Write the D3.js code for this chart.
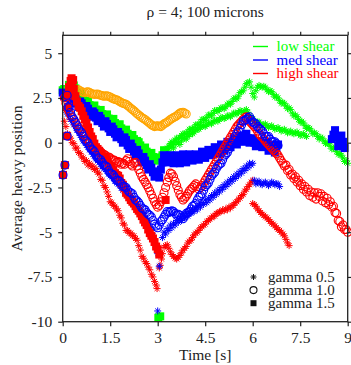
<!DOCTYPE html>
<html>
<head>
<meta charset="utf-8">
<script src="https://cdn.jsdelivr.net/npm/d3@7"></script>
<style>
  html, body { margin: 0; padding: 0; background: #fff; }
  svg { display: block; font-family: "Liberation Serif", "Times New Roman", serif; }
</style>
</head>
<body>
<svg id="chart" width="351" height="365"></svg>
<script>
// Axis ticks
const xTicks = [0, 1.5, 3, 4.5, 6, 7.5, 9];
const xTickLabels = ["0", "1.5", "3", "4.5", "6", "7.5", "9"];
const yTicks = [5, 2.5, 0, -2.5, -5, -7.5, -10];
const yTickLabels = ["5", "2.5", "0", "-2.5", "-5", "-7.5", "-10"];

// Legend entries
const shearNames = ["low shear", "med shear", "high shear"];
const shearColors = ["#00ff00", "#0000ff", "#ff0000"];
const gammaNames = ["gamma 0.5", "gamma 1.0", "gamma 1.5"];
const gammaMarks = ["asterisk", "circle", "square"];

// Trajectories: [time (s), average heavy position]
const lowShearG15 = [[0.0,2.93],[0.05,3.0],[0.1,2.77],[0.15,2.85],[0.2,3.23],[0.25,3.1],[0.3,2.97],[0.35,3.2],[0.4,3.03],[0.45,2.8],[0.5,2.57],[0.55,2.75],[0.6,2.63],[0.65,2.4],[0.7,2.17],[0.75,2.3],[0.8,2.33],[0.85,2.1],[0.9,1.92],[0.95,2.0],[1.0,2.08],[1.05,1.85],[1.1,1.72],[1.15,1.8],[1.2,1.83],[1.25,1.6],[1.3,1.47],[1.35,1.55],[1.4,1.58],[1.45,1.35],[1.5,1.17],[1.55,1.25],[1.6,1.33],[1.65,1.1],[1.7,0.92],[1.75,0.95],[1.8,1.03],[1.85,0.8],[1.9,0.62],[1.95,0.7],[2.0,0.73],[2.05,0.5],[2.1,0.32],[2.15,0.4],[2.2,0.43],[2.25,0.2],[2.3,-0.03],[2.35,0.1],[2.4,0.03],[2.45,-0.15],[2.5,-0.38],[2.55,-0.3],[2.6,-0.27],[2.65,-0.5],[2.7,-0.68],[2.75,-0.6],[2.8,-0.57],[2.85,-0.8],[2.9,-0.98],[2.95,-0.95],[3.0,-0.82],[3.05,-1.0],[3.1,-0.93],[3.15,-0.7],[3.2,-0.42],[3.02,-9.78],[3.08,-9.7]];

const lowShearG05 = [[3.2,-0.4],[3.25,-0.45],[3.3,-0.3],[3.35,-0.2],[3.4,-0.05],[3.45,0.05],[3.5,0.0],[3.55,0.15],[3.6,0.25],[3.65,0.25],[3.7,0.3],[3.75,0.4],[3.8,0.5],[3.85,0.5],[3.9,0.5],[3.95,0.6],[4.0,0.75],[4.05,0.75],[4.1,0.75],[4.15,0.85],[4.2,1.0],[4.25,1.0],[4.3,1.0],[4.35,1.15],[4.4,1.3],[4.45,1.3],[4.5,1.25],[4.55,1.4],[4.6,1.55],[4.65,1.55],[4.7,1.5],[4.75,1.65],[4.8,1.8],[4.85,1.8],[4.9,1.75],[4.95,1.85],[5.0,1.95],[5.05,1.95],[5.1,1.9],[5.15,2.0],[5.2,2.15],[5.25,2.2],[5.3,2.15],[5.35,2.3],[5.4,2.45],[5.45,2.5],[5.5,2.45],[5.55,2.6],[5.6,2.8],[5.65,2.85],[5.7,2.9],[5.75,3.1],[5.8,3.3],[5.85,3.35],[5.9,3.4],[5.95,3.1],[6.0,2.75],[6.05,2.55],[6.1,2.9],[6.15,3.1],[6.2,3.2],[6.25,3.15],[6.3,3.1],[6.35,3.15],[6.4,3.1],[6.45,2.95],[6.5,2.85],[6.55,2.9],[6.6,2.85],[6.65,2.7],[6.7,2.55],[6.75,2.6],[6.8,2.5],[6.85,2.35],[6.9,2.2],[6.95,2.25],[7.0,2.2],[7.05,2.05],[7.1,1.9],[7.15,1.95],[7.2,1.85],[7.25,1.65],[7.3,1.5],[7.35,1.55],[7.4,1.45],[7.45,1.3],[7.5,1.15],[7.55,1.2],[7.6,1.1],[7.65,0.95],[7.7,0.8],[7.75,0.85],[7.8,0.8],[7.85,0.65],[7.9,0.5],[7.95,0.55],[8.0,0.5],[8.05,0.35],[8.1,0.2],[8.15,0.3],[8.2,0.25],[8.25,0.1],[8.3,-0.05],[8.35,0.0],[8.4,-0.05],[8.45,-0.2],[8.5,-0.35],[8.55,-0.3],[8.6,-0.35],[8.65,-0.5],[8.7,-0.65],[8.75,-0.6],[8.8,-0.7],[8.85,-0.85],[8.9,-1.05],[8.95,-1.0],[9.0,-1.15]];

const lowShearG05b = [[3.3,-0.5],[3.35,-0.35],[3.4,-0.15],[3.45,-0.25],[3.5,-0.3],[3.55,-0.1],[3.6,0.05],[3.65,0.0],[3.7,-0.1],[3.75,0.1],[3.8,0.25],[3.85,0.25],[3.9,0.2],[3.95,0.35],[4.0,0.45],[4.05,0.5],[4.1,0.5],[4.15,0.6],[4.2,0.7],[4.25,0.75],[4.3,0.75],[4.35,0.85],[4.4,0.95],[4.45,0.95],[4.5,0.9],[4.55,1.0],[4.6,1.1],[4.65,1.1],[4.7,1.05],[4.75,1.15],[4.8,1.25],[4.85,1.25],[4.9,1.2],[4.95,1.3],[5.0,1.4],[5.05,1.4],[5.1,1.35],[5.15,1.4],[5.2,1.5],[5.25,1.5],[5.3,1.45],[5.35,1.55],[5.4,1.65],[5.45,1.65],[5.5,1.6],[5.55,1.7],[5.6,1.8],[5.65,1.75],[5.7,1.7],[5.75,1.8],[5.8,1.85],[5.85,1.7],[5.9,1.5],[5.95,1.4],[6.0,1.35],[6.05,1.2],[6.1,1.1],[6.15,1.15],[6.2,1.15],[6.25,1.05],[6.3,0.95],[6.35,1.0],[6.4,1.05],[6.45,0.95],[6.5,0.85],[6.55,0.9],[6.6,0.95],[6.65,0.85],[6.7,0.75],[6.75,0.8],[6.8,0.85],[6.85,0.75],[6.9,0.65],[6.95,0.7],[7.0,0.75],[7.05,0.65],[7.1,0.55],[7.15,0.6],[7.2,0.65],[7.25,0.55],[7.3,0.5],[7.35,0.55],[7.4,0.6],[7.45,0.5],[7.5,0.4],[7.55,0.45],[7.6,0.5],[7.65,0.4],[7.7,0.35]];

const lowShearG10 = [[0.2,3.05],[0.25,3.0],[0.3,2.95],[0.35,2.92],[0.4,2.9],[0.45,2.93],[0.5,2.95],[0.55,2.9],[0.6,2.85],[0.65,2.82],[0.7,2.8],[0.75,2.83],[0.8,2.85],[0.85,2.8],[0.9,2.75],[0.95,2.72],[1.0,2.7],[1.05,2.71],[1.1,2.72],[1.15,2.68],[1.2,2.65],[1.25,2.62],[1.3,2.6],[1.35,2.61],[1.4,2.62],[1.45,2.58],[1.5,2.55],[1.55,2.5],[1.6,2.45],[1.65,2.42],[1.7,2.4],[1.75,2.35],[1.8,2.3],[1.85,2.25],[1.9,2.2],[1.95,2.18],[2.0,2.15],[2.05,2.08],[2.1,2.0],[2.15,1.92],[2.2,1.85],[2.25,1.78],[2.3,1.7],[2.35,1.62],[2.4,1.55],[2.45,1.48],[2.5,1.4],[2.55,1.35],[2.6,1.3],[2.65,1.22],[2.7,1.15],[2.75,1.08],[2.8,1.0],[2.85,0.95],[2.9,0.9],[2.95,0.93],[3.0,0.95],[3.05,0.92],[3.1,0.9],[3.15,0.98],[3.2,1.05],[3.25,1.1],[3.3,1.15],[3.35,1.22],[3.4,1.3],[3.45,1.35],[3.5,1.4],[3.55,1.45],[3.6,1.5],[3.65,1.58],[3.7,1.65],[3.75,1.68],[3.8,1.7],[3.85,1.65],[3.9,1.6]];

const medShearG15 = [[0.0,2.8],[0.05,2.6],[0.1,2.5],[0.15,2.75],[0.2,2.6],[0.25,2.4],[0.3,2.2],[0.35,2.5],[0.4,2.45],[0.45,2.2],[0.5,2.0],[0.55,2.3],[0.6,2.2],[0.65,1.95],[0.7,1.75],[0.75,2.05],[0.8,1.9],[0.85,1.65],[0.9,1.45],[0.95,1.75],[1.0,1.65],[1.05,1.4],[1.1,1.2],[1.15,1.5],[1.2,1.35],[1.25,1.1],[1.3,0.9],[1.35,1.2],[1.4,1.05],[1.45,0.8],[1.5,0.6],[1.55,0.9],[1.6,0.75],[1.65,0.5],[1.7,0.3],[1.75,0.6],[1.8,0.45],[1.85,0.2],[1.9,0.0],[1.95,0.3],[2.0,0.15],[2.05,-0.15],[2.1,-0.35],[2.15,-0.05],[2.2,-0.25],[2.25,-0.5],[2.3,-0.7],[2.35,-0.4],[2.4,-0.6],[2.45,-0.85],[2.5,-1.1],[2.55,-0.8],[2.6,-1.0],[2.65,-1.25],[2.7,-1.5],[2.75,-1.2],[2.8,-1.4],[2.85,-1.65],[2.9,-1.9],[2.95,-1.6],[3.0,-1.75],[3.05,-1.95],[3.1,-1.5],[3.15,-1.1],[3.2,-0.7],[3.25,-0.9],[3.3,-1.1],[3.35,-0.8],[3.4,-0.7],[3.45,-0.95],[3.5,-1.15],[3.55,-0.85],[3.6,-0.7],[3.65,-0.95],[3.7,-1.15],[3.75,-0.85],[3.8,-0.65],[3.85,-0.9],[3.9,-1.1],[3.95,-0.8],[4.0,-0.65],[4.05,-0.85],[4.1,-1.0],[4.15,-0.8],[4.2,-0.65],[4.25,-0.8],[4.3,-0.95],[4.35,-0.7],[4.4,-0.5],[4.45,-0.7],[4.5,-0.85],[4.55,-0.6],[4.6,-0.4],[4.65,-0.55],[4.7,-0.7],[4.75,-0.45],[4.8,-0.25],[4.85,-0.4],[4.9,-0.6],[4.95,-0.35],[5.0,-0.1],[5.05,-0.3],[5.1,-0.45],[5.15,-0.2],[5.2,0.05],[5.25,-0.1],[5.3,-0.25],[5.35,0.0],[5.4,0.25],[5.45,0.05],[5.5,-0.1],[5.55,0.15],[5.6,0.4],[5.65,0.2],[5.7,0.05],[5.75,0.3],[5.8,0.5],[5.85,0.25],[5.9,0.0],[5.95,0.15],[6.0,0.25],[6.05,0.0],[6.1,-0.2],[6.15,-0.05],[6.2,0.1],[6.25,-0.1],[6.3,-0.25],[6.35,-0.1],[6.4,0.0],[6.45,-0.2],[6.5,-0.45],[6.55,-0.25],[6.6,-0.1],[6.65,-0.3],[6.7,-0.55],[6.75,-0.3],[6.8,-0.1],[8.5,0.2],[8.55,0.45],[8.6,0.7],[8.65,0.3],[8.7,-0.2],[8.75,0.1],[8.8,0.4],[8.85,0.05],[8.9,-0.3]];

const medShearG10 = [[0.14,2.65],[0.17,2.0],[0.14,0.37],[0.07,-1.25],[0.01,-1.8],[0.2,1.95],[0.25,1.7],[0.3,1.45],[0.35,1.3],[0.4,1.15],[0.45,0.95],[0.5,0.75],[0.55,0.65],[0.6,0.55],[0.65,0.35],[0.7,0.15],[0.75,0.1],[0.8,0.0],[0.85,-0.2],[0.9,-0.35],[0.95,-0.4],[1.0,-0.5],[1.05,-0.7],[1.1,-0.85],[1.15,-0.9],[1.2,-0.95],[1.25,-1.1],[1.3,-1.25],[1.35,-1.3],[1.4,-1.35],[1.45,-1.55],[1.5,-1.7],[1.55,-1.75],[1.6,-1.8],[1.65,-1.95],[1.7,-2.1],[1.75,-2.1],[1.8,-2.15],[1.85,-2.3],[1.9,-2.45],[1.95,-2.45],[2.0,-2.5],[2.05,-2.65],[2.1,-2.75],[2.15,-2.8],[2.2,-2.85],[2.25,-3.05],[2.3,-3.2],[2.35,-3.25],[2.4,-3.35],[2.45,-3.5],[2.5,-3.65],[2.55,-3.7],[2.6,-3.75],[2.65,-3.9],[2.7,-4.0],[2.75,-4.05],[2.8,-4.15],[2.85,-4.35],[2.9,-4.55],[2.95,-4.65],[3.0,-4.75],[3.05,-4.6],[3.1,-4.4],[3.15,-4.3],[3.2,-4.15],[3.25,-4.0],[3.3,-3.85],[3.35,-3.9],[3.4,-3.85],[3.45,-3.8],[3.5,-3.85],[3.55,-3.95],[3.6,-4.05],[3.65,-4.0],[3.7,-4.05],[3.75,-4.15],[3.8,-4.25],[3.85,-4.1],[3.9,-3.95],[3.95,-3.9],[4.0,-3.85],[4.05,-3.7],[4.1,-3.55],[4.15,-3.5],[4.2,-3.4],[4.25,-3.2],[4.3,-3.05],[4.35,-2.95],[4.4,-2.85],[4.45,-2.65],[4.5,-2.45],[4.55,-2.35],[4.6,-2.25],[4.65,-2.05],[4.7,-1.85],[4.75,-1.75],[4.8,-1.65],[4.85,-1.45],[4.9,-1.3],[4.95,-1.2],[5.0,-1.15],[5.05,-0.95],[5.1,-0.75],[5.15,-0.65],[5.2,-0.55],[5.25,-0.35],[5.3,-0.15],[5.35,0.0],[5.4,0.15],[5.45,0.35],[5.5,0.55],[5.55,0.65],[5.6,0.8],[5.65,1.0],[5.7,1.2],[5.75,1.25],[5.8,1.3],[5.85,1.4],[5.9,1.45],[5.95,1.3],[6.0,1.15],[6.05,1.1],[6.1,1.05],[6.15,0.9],[6.2,0.8],[6.25,0.75],[6.3,0.65],[6.35,0.5],[6.4,0.35],[6.45,0.35],[6.5,0.35],[6.55,0.2],[6.6,0.05],[6.65,0.05],[6.7,0.05],[6.75,-0.05],[6.8,-0.15]];

const medShearG05 = [[0.1,1.8],[0.15,1.6],[0.2,1.5],[0.25,1.3],[0.3,1.2],[0.35,1.0],[0.4,0.9],[0.45,0.7],[0.5,0.6],[0.55,0.4],[0.6,0.3],[0.65,0.1],[0.7,0.0],[0.75,-0.15],[0.8,-0.25],[0.85,-0.4],[0.9,-0.5],[0.95,-0.65],[1.0,-0.75],[1.05,-0.9],[1.1,-1.0],[1.15,-1.1],[1.2,-1.2],[1.25,-1.35],[1.3,-1.45],[1.35,-1.5],[1.4,-1.6],[1.45,-1.75],[1.5,-1.85],[1.55,-1.9],[1.6,-2.0],[1.65,-2.15],[1.7,-2.25],[1.75,-2.3],[1.8,-2.4],[1.85,-2.55],[1.9,-2.65],[1.95,-2.7],[2.0,-2.8],[2.05,-2.95],[2.1,-3.05],[2.15,-3.15],[2.2,-3.25],[2.25,-3.4],[2.3,-3.5],[2.35,-3.6],[2.4,-3.7],[2.45,-3.85],[2.5,-3.95],[2.55,-4.05],[2.6,-4.2],[2.65,-4.35],[2.7,-4.5],[2.75,-4.7],[2.8,-4.9],[2.85,-5.2],[2.9,-5.5],[2.95,-5.85],[3.0,-6.2],[3.05,-6.9],[3.0,-9.4],[3.15,-5.3],[3.2,-5.0],[3.25,-5.1],[3.3,-4.8],[3.35,-4.9],[3.4,-4.6],[3.45,-4.75],[3.5,-4.5],[3.55,-4.6],[3.6,-4.35],[3.65,-4.45],[3.7,-4.2],[3.75,-4.35],[3.8,-4.1],[3.85,-4.2],[3.9,-3.95],[3.95,-4.1],[4.0,-3.85],[4.05,-3.95],[4.1,-3.7],[4.15,-3.85],[4.2,-3.6],[4.25,-3.75],[4.3,-3.5],[4.35,-3.6],[4.4,-3.35],[4.45,-3.45],[4.5,-3.2],[4.55,-3.35],[4.6,-3.1],[4.65,-3.2],[4.7,-2.95],[4.75,-3.05],[4.8,-2.8],[4.85,-2.9],[4.9,-2.65],[4.95,-2.75],[5.0,-2.5],[5.05,-2.6],[5.1,-2.35],[5.15,-2.45],[5.2,-2.2],[5.25,-2.3],[5.3,-2.05],[5.35,-2.15],[5.4,-1.9],[5.45,-2.0],[5.5,-1.75],[5.55,-1.85],[5.6,-1.6],[5.65,-1.7],[5.7,-1.45],[5.75,-1.55],[5.8,-1.3],[5.85,-1.4],[5.9,-1.15],[5.95,-1.25],[6.0,-1.15],[6.05,-2.1],[6.1,-2.3],[6.15,-2.2],[6.2,-2.15],[6.25,-2.3],[6.3,-2.35],[6.35,-2.25],[6.4,-2.2],[6.45,-2.3],[6.5,-2.4],[6.55,-2.3],[6.6,-2.2],[6.65,-2.25],[6.7,-2.35],[6.75,-2.3],[6.8,-2.3],[6.85,-2.45]];

const highShearG15 = [[0.01,-1.8],[0.07,-1.25],[0.14,0.37],[0.17,2.0],[0.14,2.65],[0.2,3.1],[0.22,2.9],[0.25,3.45],[0.28,3.6],[0.3,3.3],[0.33,3.5],[0.35,3.0],[0.4,2.6],[0.45,2.3],[0.5,2.05],[0.55,1.95],[0.6,1.75],[0.65,1.5],[0.7,1.3],[0.75,1.1],[0.8,0.85],[0.85,0.6],[0.9,0.35],[0.95,0.2],[1.0,-0.05],[1.05,-0.25],[1.1,-0.35],[1.15,-0.45],[1.2,-0.6],[1.25,-0.75],[1.3,-0.8],[1.35,-0.85],[1.4,-1.0],[1.45,-1.2],[1.5,-1.3],[1.55,-1.4],[1.6,-1.55],[1.65,-1.7],[1.7,-1.8],[1.75,-1.85],[1.8,-2.0],[1.85,-2.25],[1.9,-2.35],[1.95,-2.55],[2.0,-2.8],[2.05,-2.9],[2.1,-3.05],[2.15,-3.2],[2.2,-3.3],[2.25,-3.4],[2.3,-3.55],[2.35,-3.7],[2.4,-3.8],[2.45,-3.95],[2.5,-4.1],[2.55,-4.3],[2.6,-4.45],[2.65,-4.6],[2.7,-4.85],[2.75,-5.05],[2.8,-5.2],[2.85,-5.35],[2.9,-5.55],[2.95,-5.8],[3.0,-5.95],[3.05,-6.25],[3.25,-3.2]];

const highShearG05 = [[0.05,1.2],[0.1,0.9],[0.15,0.5],[0.2,0.3],[0.25,0.25],[0.3,0.0],[0.35,-0.05],[0.4,-0.3],[0.45,-0.3],[0.5,-0.55],[0.55,-0.6],[0.6,-0.8],[0.65,-0.85],[0.7,-1.05],[0.75,-1.0],[0.8,-1.25],[0.85,-1.15],[0.9,-1.35],[0.95,-1.3],[1.0,-1.5],[1.05,-1.45],[1.1,-1.65],[1.15,-1.75],[1.2,-2.05],[1.25,-2.1],[1.3,-2.4],[1.35,-2.5],[1.4,-2.75],[1.45,-3.0],[1.5,-3.3],[1.55,-3.35],[1.6,-3.5],[1.65,-3.55],[1.7,-3.7],[1.75,-3.8],[1.8,-4.05],[1.85,-4.2],[1.9,-4.5],[1.95,-4.6],[2.0,-4.9],[2.05,-4.9],[2.1,-5.05],[2.15,-5.05],[2.2,-5.2],[2.25,-5.2],[2.3,-5.35],[2.35,-5.45],[2.4,-5.75],[2.45,-6.0],[2.5,-6.35],[2.55,-6.45],[2.6,-6.65],[2.65,-6.75],[2.7,-6.95],[2.75,-7.1],[2.8,-7.35],[2.85,-7.5],[2.9,-7.75],[2.95,-7.95],[2.98,-8.15],[3.05,-7.0],[3.08,-6.85],[3.12,-6.5],[3.15,-6.2],[3.2,-5.85],[3.25,-5.75],[3.3,-5.7],[3.35,-5.9],[3.4,-6.1],[3.45,-6.25],[3.5,-6.35],[3.55,-6.45],[3.6,-6.5],[3.65,-6.4],[3.7,-6.3],[3.75,-6.15],[3.8,-6.0],[3.85,-5.9],[3.9,-5.8],[3.95,-5.6],[4.0,-5.5],[4.05,-5.45],[4.1,-5.3],[4.15,-5.15],[4.2,-5.05],[4.25,-5.0],[4.3,-4.9],[4.35,-4.75],[4.4,-4.7],[4.45,-4.6],[4.5,-4.55],[4.55,-4.4],[4.6,-4.35],[4.65,-4.25],[4.7,-4.2],[4.75,-4.1],[4.8,-4.1],[4.85,-3.95],[4.9,-3.95],[4.95,-3.85],[5.0,-3.85],[5.05,-3.75],[5.1,-3.8],[5.15,-3.7],[5.2,-3.75],[5.25,-3.6],[5.3,-3.65],[5.35,-3.5],[5.4,-3.5],[5.45,-3.35],[5.5,-3.3],[5.55,-3.15],[5.6,-3.1],[5.65,-2.95],[5.7,-2.9],[5.75,-2.7],[5.8,-2.6],[5.85,-2.45],[5.9,-2.35],[5.95,-2.2],[6.0,-2.1],[6.0,-3.4],[6.05,-3.45],[6.1,-3.55],[6.15,-3.7],[6.2,-3.8],[6.25,-3.9],[6.3,-4.0],[6.35,-4.05],[6.4,-4.15],[6.45,-4.2],[6.5,-4.3],[6.55,-4.4],[6.6,-4.5],[6.65,-4.55],[6.7,-4.65],[6.75,-4.75],[6.8,-4.85],[6.85,-4.9],[6.9,-5.0],[6.95,-5.1],[7.0,-5.2],[7.05,-5.4],[7.1,-5.6],[7.15,-5.75]];

const highShearG10 = [[0.05,2.5],[0.1,2.2],[0.15,1.9],[0.2,1.75],[0.25,1.55],[0.3,1.4],[0.35,1.3],[0.4,1.1],[0.45,1.0],[0.5,0.85],[0.55,0.75],[0.6,0.6],[0.65,0.45],[0.7,0.35],[0.75,0.2],[0.8,0.1],[0.85,0.0],[0.9,-0.1],[0.95,-0.2],[1.0,-0.25],[1.05,-0.3],[1.1,-0.4],[1.15,-0.45],[1.2,-0.5],[1.25,-0.6],[1.3,-0.65],[1.35,-0.7],[1.4,-0.8],[1.45,-0.8],[1.5,-0.85],[1.55,-0.95],[1.6,-0.95],[1.65,-1.0],[1.7,-1.1],[1.75,-1.05],[1.8,-1.1],[1.85,-1.2],[1.9,-1.15],[1.95,-1.2],[2.0,-1.0],[2.05,-0.9],[2.1,-1.05],[2.15,-1.2],[2.2,-1.3],[2.25,-1.15],[2.3,-1.1],[2.35,-1.3],[2.4,-1.5],[2.45,-1.7],[2.5,-1.9],[2.55,-2.05],[2.6,-2.2],[2.65,-2.35],[2.7,-2.5],[2.75,-2.7],[2.8,-2.9],[2.85,-3.1],[2.9,-3.3],[2.95,-3.45],[3.0,-3.6],[3.05,-3.5],[3.1,-3.3],[3.15,-3.05],[3.2,-2.8],[3.25,-2.5],[3.3,-2.2],[3.35,-1.95],[3.4,-1.7],[3.45,-1.75],[3.5,-1.9],[3.55,-2.15],[3.6,-2.4],[3.65,-2.65],[3.7,-2.9],[3.75,-3.05],[3.8,-3.2],[3.85,-3.1],[3.9,-3.0],[3.95,-2.85],[4.0,-2.7],[4.05,-2.6],[4.1,-2.5],[4.15,-2.4],[4.2,-2.3],[4.25,-2.45],[4.3,-2.6],[4.35,-2.5],[4.4,-2.4],[4.45,-2.25],[4.5,-2.1],[4.55,-1.95],[4.6,-1.8],[4.65,-1.65],[4.7,-1.5],[4.75,-1.35],[4.8,-1.2],[4.85,-1.05],[4.9,-0.9],[4.95,-0.75],[5.0,-0.6],[5.05,-0.45],[5.1,-0.3],[5.15,-0.15],[5.2,0.0],[5.25,0.15],[5.3,0.3],[5.35,0.45],[5.4,0.6],[5.45,0.75],[5.5,0.9],[5.55,1.0],[5.6,1.1],[5.65,1.2],[5.7,1.3],[5.75,1.4],[5.8,1.45],[5.85,1.35],[5.9,1.2],[5.95,1.1],[6.0,1.0],[6.05,0.9],[6.1,0.8],[6.15,0.65],[6.2,0.5],[6.25,0.4],[6.3,0.3],[6.35,0.2],[6.4,0.1],[6.45,0.0],[6.5,-0.1],[6.55,-0.2],[6.6,-0.3],[6.65,-0.4],[6.7,-0.5],[6.75,-0.6],[6.8,-0.7],[6.85,-0.85],[6.9,-1.0],[6.95,-1.15],[7.0,-1.3],[7.05,-1.25],[7.1,-1.55],[7.15,-1.5],[7.2,-1.8],[7.25,-1.75],[7.3,-2.0],[7.35,-1.9],[7.4,-2.2],[7.45,-2.1],[7.5,-2.4],[7.55,-2.3],[7.6,-2.6],[7.65,-2.45],[7.7,-2.75],[7.75,-2.6],[7.8,-2.95],[7.85,-2.75],[7.9,-3.05],[7.95,-2.8],[8.0,-3.15],[8.05,-2.8],[8.1,-3.0],[8.15,-2.85],[8.2,-3.25],[8.25,-3.0],[8.3,-3.35],[8.35,-3.1],[8.4,-3.45],[8.45,-3.3],[8.5,-3.6],[8.55,-3.55],[8.6,-3.9],[8.65,-3.95],[8.7,-4.35],[8.75,-4.4],[8.8,-4.7],[8.85,-4.6],[8.9,-4.85],[8.95,-4.85],[9.0,-5.0]];

// Layers, bottom to top
const layers = [
  { data: lowShearG05,  color: "#00ff00", mark: "asterisk" },
  { data: lowShearG05b, color: "#00ff00", mark: "asterisk" },
  { data: lowShearG15,  color: "#00ff00", mark: "square" },
  { data: lowShearG10,  color: "#ffa500", mark: "circle" },
  { data: medShearG15,  color: "#0000ff", mark: "square" },
  { data: highShearG05, color: "#ff0000", mark: "asterisk" },
  { data: medShearG05,  color: "#0000ff", mark: "asterisk" },
  { data: highShearG15, color: "#ff0000", mark: "square" },
  { data: highShearG10, color: "#ff0000", mark: "circle" },
  { data: medShearG10,  color: "#0000ff", mark: "circle" }
];

const svg = d3.select("#chart");
const plotLeft = 62.7, plotRight = 347.7, plotTop = 35.3, plotBottom = 321.7;
const x = d3.scaleLinear().domain([0, 9]).range([plotLeft, plotRight]);
const y = d3.scaleLinear().domain([-10, 6]).range([plotBottom, plotTop]);

const axisColor = "#222";
const fontSize = 15.5;

// Asterisk marker: plus and cross overlaid
function asteriskPath(r) {
  const d = r * Math.SQRT1_2;
  return `M${-r},0L${r},0M0,${-r}L0,${r}M${-d},${-d}L${d},${d}M${-d},${d}L${d},${-d}`;
}

function drawMark(g, mark, color, size) {
  if (mark === "square") {
    g.append("rect").attr("x", -size / 2).attr("y", -size / 2)
      .attr("width", size).attr("height", size).attr("fill", color);
  } else if (mark === "circle") {
    g.append("circle").attr("r", size / 2).attr("fill", "none")
      .attr("stroke", color).attr("stroke-width", 1.1);
  } else {
    g.append("path").attr("d", asteriskPath(size / 2)).attr("fill", "none")
      .attr("stroke", color).attr("stroke-width", 1);
  }
}

const plot = svg.append("g");
const markSize = { square: 8, circle: 8, asterisk: 7 };
layers.forEach(layer => {
  const lg = plot.append("g");
  layer.data.forEach(([t, v]) => {
    const g = lg.append("g").attr("transform", `translate(${x(t)},${y(v)})`);
    drawMark(g, layer.mark, layer.color, markSize[layer.mark]);
  });
});

// Axes
function styleAxis(g) {
  g.select(".domain").remove();
  g.selectAll(".tick line").attr("stroke", axisColor).attr("stroke-width", 1.2);
  g.selectAll(".tick text").attr("fill", "#222").attr("font-size", fontSize)
    .attr("font-family", "Liberation Serif, serif");
}
svg.append("g").attr("transform", `translate(0,${plotBottom})`)
  .call(d3.axisBottom(x).tickValues(xTicks).tickFormat((d, i) => xTickLabels[i])
    .tickSizeInner(4.5).tickSizeOuter(0).tickPadding(6))
  .call(styleAxis);
svg.append("g").attr("transform", `translate(0,${plotTop})`)
  .call(d3.axisTop(x).tickValues(xTicks).tickFormat("").tickSizeInner(3.5).tickSizeOuter(0))
  .call(styleAxis);
svg.append("g").attr("transform", `translate(${plotLeft},0)`)
  .call(d3.axisLeft(y).tickValues(yTicks).tickFormat((d, i) => yTickLabels[i])
    .tickSizeInner(4.5).tickSizeOuter(0).tickPadding(6))
  .call(styleAxis);
svg.append("g").attr("transform", `translate(${plotRight},0)`)
  .call(d3.axisRight(y).tickValues(yTicks).tickFormat("").tickSizeInner(4).tickSizeOuter(0))
  .call(styleAxis);

// Frame
svg.append("rect").attr("x", plotLeft).attr("y", plotTop)
  .attr("width", plotRight - plotLeft).attr("height", plotBottom - plotTop)
  .attr("fill", "none").attr("stroke", axisColor).attr("stroke-width", 1.3);

// Titles
svg.append("text").attr("x", (plotLeft + plotRight) / 2).attr("y", 17)
  .attr("text-anchor", "middle").attr("font-size", fontSize).attr("fill", "#222")
  .text("ρ = 4; 100 microns");
svg.append("text").attr("x", (plotLeft + plotRight) / 2).attr("y", 360)
  .attr("text-anchor", "middle").attr("font-size", fontSize).attr("fill", "#222")
  .text("Time [s]");
svg.append("text").attr("transform", `translate(22,${(plotTop + plotBottom) / 2}) rotate(-90)`)
  .attr("text-anchor", "middle").attr("font-size", fontSize).attr("fill", "#222")
  .text("Average heavy position");

// Shear legend (colour)
const legendFont = 15;
const shearLegend = svg.append("g");
shearNames.forEach((name, i) => {
  const yy = 46.5 + i * 13.5;
  shearLegend.append("line").attr("x1", 253).attr("x2", 268).attr("y1", yy).attr("y2", yy)
    .attr("stroke", shearColors[i]).attr("stroke-width", 1.4);
  shearLegend.append("text").attr("x", 276.5).attr("y", yy + 4.5)
    .attr("font-size", legendFont).attr("fill", shearColors[i]).text(name);
});

// Gamma legend (marker)
const gammaLegend = svg.append("g");
gammaNames.forEach((name, i) => {
  const yy = 277 + i * 13.1;
  const g = gammaLegend.append("g").attr("transform", `translate(253.5,${yy})`);
  drawMark(g, gammaMarks[i], "#111", gammaMarks[i] === "circle" ? 7 : 6);
  gammaLegend.append("text").attr("x", 268).attr("y", yy + 4.5)
    .attr("font-size", legendFont).attr("fill", "#222").text(name);
});
</script>
</body>
</html>
